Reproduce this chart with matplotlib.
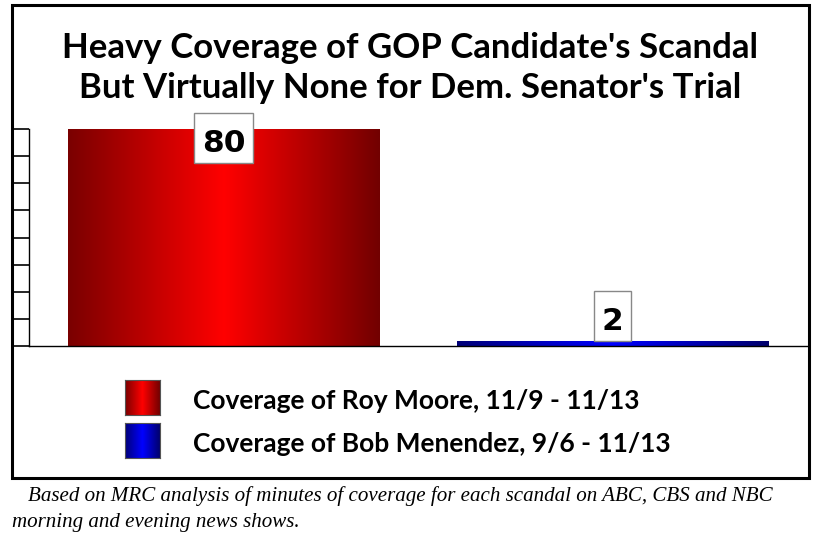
import numpy as np
import matplotlib
matplotlib.use("Agg")
import matplotlib.pyplot as plt
from matplotlib.colors import LinearSegmentedColormap
from matplotlib.patches import Rectangle
from matplotlib.transforms import Affine2D, ScaledTranslation

# ---- data ----
title_lines = ["Heavy Coverage of GOP Candidate's Scandal",
               "But Virtually None for Dem. Senator's Trial"]
categories = ["Roy Moore", "Bob Menendez"]
values = [80, 2]
legend_labels = ["Coverage of Roy Moore, 11/9 - 11/13",
                 "Coverage of Bob Menendez, 9/6 - 11/13"]
caption_lines = ["Based on MRC analysis of minutes of coverage for each scandal on ABC, CBS and NBC",
                 "morning and evening news shows."]
y_ticks = [0, 10, 20, 30, 40, 50, 60, 70, 80]

W, H = 820, 538
fig = plt.figure(figsize=(W / 100, H / 100), dpi=100)
fig.patch.set_facecolor("white")

red_cmap = LinearSegmentedColormap.from_list(
    "r", [(0, "#7a0000"), (0.5, "#ff0000"), (1, "#720000")])
blue_cmap = LinearSegmentedColormap.from_list(
    "b", [(0, "#000078"), (0.5, "#0000ff"), (1, "#00006c")])
cmaps = [red_cmap, blue_cmap]

def px_ax(l, t, r, b):
    return fig.add_axes([l / W, 1 - b / H, (r - l) / W, (b - t) / H])

# overlay axes in pixel coordinates
ov = fig.add_axes([0, 0, 1, 1], zorder=0)
ov.set_xlim(0, W)
ov.set_ylim(H, 0)
ov.axis("off")
ov.add_patch(Rectangle((12, 5), 797, 473, fill=False, ec="black", lw=2.2))

# data axes
ax = px_ax(29, 129, 807, 346)
ax.set_zorder(1)
ax.patch.set_alpha(0)
for s in ["top", "right"]:
    ax.spines[s].set_visible(False)
ax.spines["left"].set_linewidth(1.0)
ax.spines["bottom"].set_linewidth(1.0)
ax.set_xticks([])
ax.set_yticks(y_ticks)
ax.set_yticklabels([])
ax.tick_params(axis="y", length=11, width=1.2, direction="out")
for t, v in zip(ax.yaxis.get_major_ticks(), y_ticks):
    t.tick1line.set_color("black" if v % 20 == 0 and v > 0 else "#8a8a8a")

grad = np.linspace(0, 1, 256).reshape(1, -1)
label_offsets = [-23, 11]  # px, baseline of value text relative to bar top
bars = ax.bar(range(len(values)), values, width=0.8, color="none", ec="none")
ax.set_xlim(-0.5, 1.5)
ax.set_ylim(0, 80)
labels = []
for i, (b, v) in enumerate(zip(bars, values)):
    x0, w = b.get_x(), b.get_width()
    im = ax.imshow(grad, cmap=cmaps[i], aspect="auto",
                   extent=[x0, x0 + w, 0, v], zorder=2)
    im.set_clip_path(b)
    t = ax.annotate(str(v), (i, v), xytext=(0, label_offsets[i]),
                    textcoords="offset pixels", ha="center", va="baseline",
                    fontsize=22.5, fontweight="bold", family="DejaVu Sans", zorder=6)
    labels.append(t)
ax.set_xlim(-0.5, 1.5)
ax.set_ylim(0, 80)

fig.canvas.draw()
renderer = fig.canvas.get_renderer()
for i, (t, v) in enumerate(zip(labels, values)):
    tw = t.get_window_extent(renderer).width
    bw = tw + 16
    tr = (Affine2D().translate(0, label_offsets[i])
          + ScaledTranslation(i, v, ax.transData))
    ax.add_patch(Rectangle((-bw / 2, -11), bw, 50, transform=tr, fc="white",
                           ec="#888888", lw=1, zorder=5, clip_on=False))

# title
for j, line in enumerate(title_lines):
    fig.text(410 / W, 1 - (48 + 40 * j) / H, line, ha="center", va="center",
             fontsize=25, fontweight="bold", family="Lato")

# legend
for i, lab in enumerate(legend_labels):
    top = 380 + 43 * i
    lax = px_ax(125, top, 160, top + 35)
    lax.imshow(grad, cmap=cmaps[i], aspect="auto", extent=[0, 1, 0, 1])
    lax.set_xticks([]); lax.set_yticks([])
    for s in lax.spines.values():
        s.set_color("#555555"); s.set_linewidth(0.8)
    fig.text(193 / W, 1 - (top + 21) / H, lab, ha="left", va="center",
             fontsize=19, fontweight="bold", family="Lato")

# caption
fig.text(28 / W, 1 - 496 / H, caption_lines[0], ha="left", va="center",
         fontsize=15.1, style="italic", family="Liberation Serif")
fig.text(12 / W, 1 - 522 / H, caption_lines[1], ha="left", va="center",
         fontsize=15.1, style="italic", family="Liberation Serif")

fig.savefig("out.png", dpi=100)
